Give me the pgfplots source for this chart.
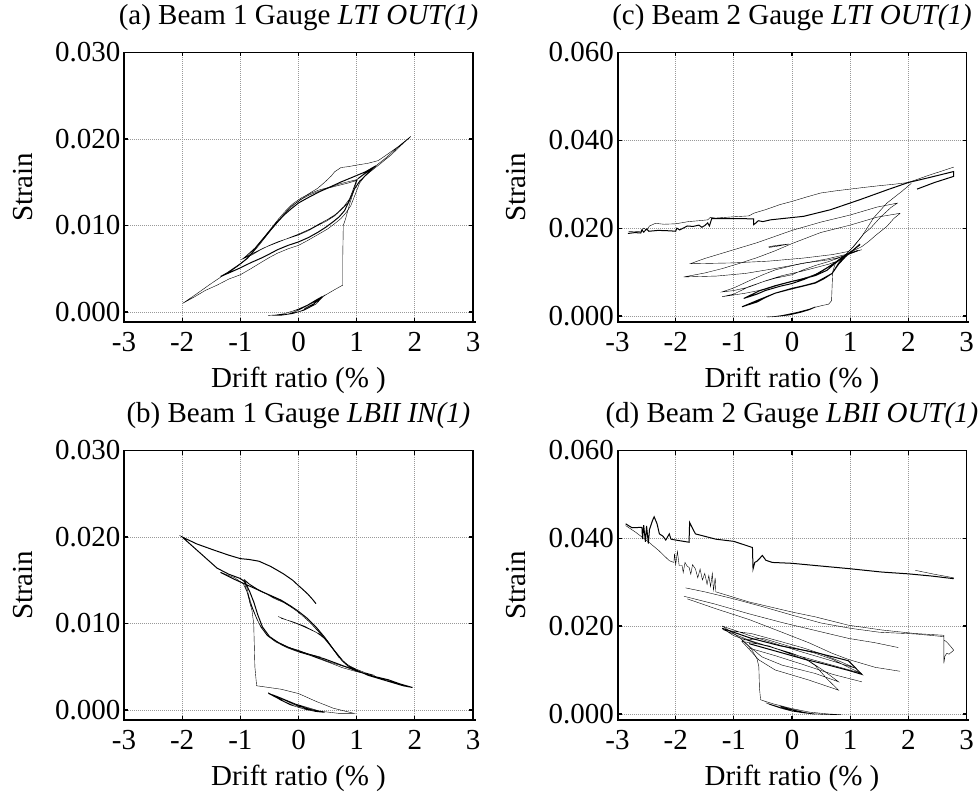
\documentclass[border=0pt]{standalone}
\usepackage{fontspec}
\setmainfont{Liberation Serif}
\usepackage{pgfplots}
\pgfplotsset{compat=1.18}

\pgfplotsset{
  panel/.style={
    scale only axis, width=349pt, height=269.5pt,
    xmin=-3, xmax=3, xtick={-3,-2,-1,0,1,2,3},
    clip=false,
    grid=major,
    grid style={gray!80, line width=0.7pt, dash pattern=on 1pt off 1pt},
    tick align=inside, major tick length=4pt,
    tick style={black, line width=1.3pt},
    axis line style={black, line width=1.1pt},
    font=\fontsize{29}{34}\selectfont,
    /pgf/number format/assume math mode=true,
    scaled y ticks=false,
    yticklabel={\pgfmathprintnumber[fixed,fixed zerofill,precision=3,assume math mode=true]{\tick}},
    xticklabel style={yshift=-7pt},
    xlabel={Drift ratio (\% )},
    ylabel={Strain},
    xlabel style={at={(axis description cs:0.5,0)}, anchor=base, yshift=-65pt, inner sep=0pt},
    title style={at={(axis description cs:0.5,1)}, anchor=base, yshift=22pt, inner sep=0pt},
    cycle list={{black, solid, line width=1pt, line join=round, mark=none}},
  },
}

\begin{document}
\begin{tikzpicture}
\useasboundingbox (0,0) rectangle (979pt,-794pt);

% ---------------- (a) ----------------
\begin{axis}[panel, at={(124pt,-322pt)}, anchor=south west,
  ymin=-0.00116, ymax=0.030, ytick={0,0.01,0.02,0.03},
  ylabel style={at={(axis description cs:-0.261,0.5)}, anchor=base, inner sep=0pt},
  title={(a) Beam 1 Gauge \textit{LTI OUT(1)}}]
\addplot coordinates {(-0.52,-0.0004) (-0.3,-0.0003) (-0.1,0.0001) (0.1,0.0006) (0.3,0.0013) (0.44,0.0019) (0.3,0.0009) (0.1,0.0002) (-0.1,-0.0002) (-0.3,-0.0004) (-0.45,-0.0004) (-0.25,-0.0002) (-0.05,0.0002) (0.15,0.0008) (0.35,0.0016) (0.42,0.0018) (0.25,0.0008) (0.05,0.0001) (-0.15,-0.0002) (-0.35,-0.0004) (-0.15,0.0000) (0.05,0.0004) (0.25,0.0011) (0.40,0.0018) (0.2,0.0006) (0.0,0.0000) (-0.2,-0.0003) (0.0,0.0002) (0.2,0.0009) (0.38,0.0015) (0.3,0.0011) (0.1,0.0004) (0.25,0.0009) (0.45,0.0019) (0.6,0.0025) (0.76,0.0031) (0.76,0.0060) (0.77,0.0100) (0.81,0.0108) (0.88,0.0125) (0.95,0.0140) (1.0,0.0152)};
\addplot coordinates {(1.0,0.0152) (0.85,0.0149) (0.67,0.0146) (0.50,0.0143) (0.33,0.0139) (0.18,0.0135) (0.04,0.0130) (-0.08,0.0124) (-0.19,0.0117) (-0.30,0.0109) (-0.42,0.0100) (-0.55,0.0089) (-0.65,0.0081) (-0.80,0.0070) (-0.97,0.0061) (-0.80,0.0066) (-0.65,0.0072) (-0.50,0.0077) (-0.36,0.0081) (-0.18,0.0085) (0,0.0089) (0.17,0.0094) (0.33,0.0100) (0.48,0.0105) (0.62,0.0111) (0.75,0.0119) (0.85,0.0126) (0.93,0.0140) (1.0,0.0153) (0.88,0.0151) (0.70,0.0148) (0.52,0.0144) (0.35,0.0141) (0.20,0.0137) (0.05,0.0132) (-0.10,0.0125) (-0.22,0.0117) (-0.35,0.0107) (-0.48,0.0096) (-0.60,0.0086) (-0.75,0.0074) (-0.93,0.0063) (-0.78,0.0068) (-0.60,0.0074) (-0.45,0.0078) (-0.30,0.0082) (-0.15,0.0086) (0.0,0.0090) (0.20,0.0096) (0.36,0.0102) (0.50,0.0107) (0.64,0.0113) (0.78,0.0122) (0.88,0.0131) (0.95,0.0143) (1.02,0.0154)};
\addplot coordinates {(1.02,0.0154) (1.14,0.0160) (1.33,0.0169) (1.15,0.0162) (0.90,0.0155) (0.72,0.0150) (0.56,0.0145) (0.36,0.0139) (0.16,0.0132) (0.0,0.0126) (-0.13,0.0119) (-0.25,0.0112) (-0.36,0.0104) (-0.50,0.0093) (-0.65,0.0081) (-0.78,0.0070) (-0.88,0.0062) (-1.05,0.0053) (-1.2,0.0046) (-1.34,0.0041) (-1.2,0.0045) (-1.0,0.0051) (-0.82,0.0057) (-0.65,0.0062) (-0.50,0.0067) (-0.36,0.0072) (-0.18,0.0077) (0,0.0081) (0.17,0.0086) (0.33,0.0092) (0.47,0.0098) (0.59,0.0104) (0.70,0.0110) (0.79,0.0117) (0.87,0.0128) (0.96,0.0142) (1.05,0.0151) (1.14,0.0157) (1.25,0.0164) (1.33,0.0169)};
\addplot coordinates {(1.33,0.0169) (1.5,0.0178) (1.7,0.0190) (1.93,0.0203) (1.71,0.0191) (1.50,0.0181) (1.37,0.0175) (1.20,0.0172) (1.02,0.0170) (0.85,0.0168) (0.73,0.0167) (0.62,0.0162) (0.56,0.0157) (0.45,0.0150) (0.33,0.0143) (0.16,0.0136) (0.0,0.0128) (-0.13,0.0122) (-0.31,0.0108) (-0.45,0.0097) (-0.54,0.0089) (-0.68,0.0077) (-0.82,0.0066) (-0.95,0.0058) (-1.11,0.0051) (-1.30,0.0042) (-1.52,0.0032) (-1.75,0.0021) (-1.99,0.0010) (-1.80,0.0017) (-1.60,0.0025) (-1.40,0.0031) (-1.20,0.0038) (-1.0,0.0043) (-0.82,0.0050) (-0.65,0.0057) (-0.50,0.0063) (-0.36,0.0068) (-0.18,0.0073) (0,0.0077) (0.14,0.0082) (0.27,0.0087) (0.40,0.0092) (0.50,0.0096) (0.62,0.0102) (0.73,0.0108) (0.82,0.0115) (0.90,0.0123) (0.97,0.0135) (1.05,0.0149) (1.15,0.0158) (1.25,0.0163) (1.40,0.0171) (1.60,0.0182) (1.80,0.0195) (1.92,0.0202)};
\draw[line width=2pt] (rel axis cs:0,1) -- (rel axis cs:0,0) -- (rel axis cs:1.008,0);
\end{axis}

% ---------------- (c) ----------------
\begin{axis}[panel, at={(617.5pt,-322pt)}, anchor=south west,
  ymin=-0.00136, ymax=0.060, ytick={0,0.02,0.04,0.06},
  ylabel style={at={(axis description cs:-0.265,0.5)}, anchor=base, inner sep=0pt},
  title={(c) Beam 2 Gauge \textit{LTI OUT(1)}}]
\addplot coordinates {(-0.43,-0.0002) (-0.25,-0.0001) (-0.05,0.0002) (0.15,0.0008) (0.30,0.0014) (0.40,0.0020) (0.25,0.0013) (0.05,0.0006) (-0.15,0.0001) (-0.35,-0.0002) (-0.15,0.0002) (0.10,0.0009) (0.30,0.0016) (0.40,0.0021) (0.2,0.0010) (0.0,0.0004) (-0.2,0.0000) (0.0,0.0005) (0.2,0.0012) (0.40,0.0020) (0.52,0.0024) (0.63,0.0027) (0.68,0.0035) (0.69,0.0070) (0.70,0.0101) (0.74,0.0118) (0.80,0.0127) (0.86,0.0134) (0.92,0.0139) (1.00,0.0146) (1.08,0.0153) (1.17,0.0162)};
\addplot coordinates {(1.17,0.0162) (1.05,0.0150) (0.92,0.0138) (0.80,0.0126) (0.63,0.0118) (0.40,0.0110) (0.17,0.0102) (0.0,0.0097) (-0.17,0.0092) (-0.46,0.0080) (-0.74,0.0066) (-1.0,0.0058) (-1.2,0.0055) (-1.0,0.0064) (-0.74,0.0080) (-0.50,0.0094) (-0.29,0.0105) (-0.05,0.0113) (0.17,0.0120) (0.40,0.0124) (0.63,0.0128) (0.80,0.0133) (0.92,0.0139) (1.05,0.0145) (1.20,0.0151) (1.05,0.0146) (0.92,0.0139) (0.80,0.0128) (0.66,0.0115) (0.50,0.0100) (0.30,0.0090) (0.10,0.0082) (-0.17,0.0073) (-0.46,0.0061) (-0.80,0.0052) (-1.0,0.0048) (-1.2,0.0044) (-1.0,0.0050) (-0.74,0.0067) (-0.50,0.0078) (-0.29,0.0086) (0.0,0.0094) (0.17,0.0104) (0.40,0.0115) (0.63,0.0124) (0.80,0.0132) (0.92,0.0139) (1.13,0.0149)};
\addplot coordinates {(1.13,0.0149) (0.92,0.0138) (0.74,0.0120) (0.60,0.0104) (0.40,0.0092) (0.17,0.0084) (0.0,0.0079) (-0.29,0.0069) (-0.55,0.0058) (-0.83,0.0040) (-0.60,0.0050) (-0.46,0.0058) (-0.20,0.0068) (0.0,0.0074) (0.20,0.0083) (0.40,0.0094) (0.58,0.0108) (0.74,0.0121) (0.92,0.0139) (0.80,0.0120) (0.69,0.0097) (0.50,0.0083) (0.40,0.0076) (0.20,0.0069) (0.0,0.0063) (-0.29,0.0052) (-0.57,0.0037) (-0.86,0.0021) (-0.60,0.0032) (-0.46,0.0042) (-0.29,0.0052) (0.0,0.0062) (0.25,0.0070) (0.40,0.0075) (0.55,0.0085) (0.69,0.0097) (0.80,0.0118) (0.92,0.0135) (1.0,0.0144) (1.17,0.0164)};
\addplot coordinates {(0.92,0.0140) (0.6,0.0130) (0.2,0.0120) (-0.3,0.0108) (-0.8,0.0097) (-1.3,0.0091) (-1.86,0.0089) (-1.5,0.0098) (-1.2,0.0108) (-0.9,0.0120) (-0.6,0.0133) (-0.3,0.0148) (0,0.0165) (0.49,0.0190) (1.0,0.0207) (1.46,0.0225) (1.86,0.0234) (1.75,0.0222) (1.63,0.0204) (1.45,0.0185) (1.32,0.0170) (1.2,0.0158) (1.09,0.0151) (0.92,0.0139)};
\addplot coordinates {(0.97,0.0147) (0.7,0.0140) (0.2,0.0132) (-0.4,0.0125) (-1.0,0.0121) (-1.75,0.0119) (-1.5,0.0131) (-1.2,0.0143) (-0.9,0.0155) (-0.6,0.0167) (-0.3,0.0181) (0,0.0195) (0.5,0.0214) (1.0,0.0230) (1.46,0.0248) (1.81,0.0257) (1.7,0.0247) (1.52,0.0225) (1.35,0.0200) (1.23,0.0187) (1.06,0.0158) (0.97,0.0147)};
\addplot coordinates {(-0.40,0.0158) (-0.25,0.0161) (-0.05,0.0164) (-0.25,0.0159) (-0.40,0.0156)};
\addplot coordinates {(-2.81,0.0192) (-2.6,0.0193) (-2.55,0.0200) (-2.5,0.0196) (-2.45,0.0205) (-2.35,0.0211) (-2.2,0.0209) (-2.0,0.0210) (-1.78,0.0215) (-1.6,0.0217) (-1.45,0.0219) (-1.40,0.0225) (-1.32,0.0223) (-1.0,0.0226) (-0.74,0.0228) (-0.66,0.0234) (-0.46,0.0242) (-0.2,0.0254) (0,0.0261) (0.25,0.0271) (0.49,0.0280) (0.75,0.0285) (1.0,0.0289) (1.25,0.0293) (1.52,0.0297) (1.75,0.0300) (2.0,0.0304) (2.32,0.0319) (2.55,0.0329) (2.78,0.0339)};
\addplot coordinates {(-2.82,0.0188) (-2.7,0.0190) (-2.6,0.0189) (-2.58,0.0196) (-2.55,0.0191) (-2.5,0.0198) (-2.46,0.0193) (-2.3,0.0195) (-2.1,0.0194) (-2.0,0.0193) (-1.98,0.0200) (-1.93,0.0196) (-1.8,0.0205) (-1.7,0.0204) (-1.6,0.0207) (-1.55,0.0202) (-1.5,0.0206) (-1.45,0.0212) (-1.42,0.0205) (-1.38,0.0222) (-1.2,0.0222) (-0.9,0.0222) (-0.66,0.0221) (-0.66,0.0208) (-0.62,0.0212) (-0.58,0.0217) (-0.5,0.0215) (-0.37,0.0219) (0.2,0.0227) (0.66,0.0242) (1.17,0.0265) (1.63,0.0287) (2.0,0.0304) (2.32,0.0314) (2.78,0.0329) (2.78,0.0318) (2.45,0.0304) (2.15,0.0289)};
\addplot coordinates {(2.05,0.0302) (1.89,0.0284) (1.63,0.0257) (1.40,0.0223) (1.2,0.0181) (1.0,0.0150) (0.92,0.0140)};
\draw[line width=2pt] (rel axis cs:0,1) -- (rel axis cs:0,0) -- (rel axis cs:1.008,0);
\end{axis}

% ---------------- (b) ----------------
\begin{axis}[panel, at={(124pt,-720pt)}, anchor=south west,
  ymin=-0.00116, ymax=0.030, ytick={0,0.01,0.02,0.03},
  ylabel style={at={(axis description cs:-0.261,0.5)}, anchor=base, inner sep=0pt},
  title={(b) Beam 1 Gauge \textit{LBII IN(1)}}]
\addplot coordinates {(-0.52,0.0019) (-0.35,0.0013) (-0.15,0.0006) (0.05,0.0002) (0.25,-0.0001) (0.45,-0.0003) (0.25,0.0000) (0.0,0.0004) (-0.2,0.0010) (-0.4,0.0016) (-0.52,0.0020) (-0.3,0.0011) (-0.1,0.0005) (0.1,0.0001) (0.3,-0.0002) (0.45,-0.0003) (0.2,0.0002) (-0.05,0.0007) (-0.3,0.0014) (-0.45,0.0018) (-0.25,0.0010) (-0.05,0.0004) (0.15,-0.0000) (0.35,-0.0002) (0.1,0.0003) (-0.1,0.0008) (-0.3,0.0014) (-0.1,0.0007) (0.15,0.0001) (0.45,-0.0002) (0.7,-0.0004) (0.96,-0.0004) (0.6,0.0002) (0.3,0.0010) (0.0,0.0019) (-0.3,0.0024) (-0.72,0.0028) (-0.75,0.0050) (-0.77,0.0100) (-0.80,0.0115) (-0.84,0.0125) (-0.88,0.0140) (-0.93,0.0151)};
\addplot coordinates {(-0.93,0.0151) (-0.85,0.0146) (-0.71,0.0140) (-0.55,0.0134) (-0.42,0.0129) (-0.25,0.0124) (-0.13,0.0119) (0.0,0.0113) (0.10,0.0107) (0.22,0.0100) (0.33,0.0092) (0.45,0.0083) (0.56,0.0074) (0.68,0.0064) (0.79,0.0055) (0.90,0.0050) (1.0,0.0047) (0.85,0.0049) (0.70,0.0052) (0.56,0.0055) (0.40,0.0059) (0.27,0.0062) (0.12,0.0065) (0.0,0.0068) (-0.15,0.0072) (-0.31,0.0077) (-0.45,0.0082) (-0.54,0.0087) (-0.63,0.0095) (-0.71,0.0104) (-0.78,0.0115) (-0.83,0.0123) (-0.88,0.0135) (-0.91,0.0143) (-0.94,0.0150) (-0.80,0.0143) (-0.65,0.0137) (-0.45,0.0131) (-0.25,0.0125) (-0.10,0.0118) (0.05,0.0110) (0.20,0.0101) (0.35,0.0090) (0.50,0.0078) (0.62,0.0068) (0.75,0.0058) (0.85,0.0052) (1.0,0.0047) (1.15,0.0043) (1.31,0.0040) (1.15,0.0042) (0.96,0.0045) (0.75,0.0049) (0.56,0.0054) (0.40,0.0058) (0.20,0.0063) (0.0,0.0067) (-0.2,0.0072) (-0.4,0.0079) (-0.54,0.0086) (-0.65,0.0096) (-0.73,0.0108) (-0.80,0.0120) (-0.86,0.0133) (-0.95,0.0146) (-1.10,0.0153) (-1.34,0.0159)};
\addplot coordinates {(-1.34,0.0159) (-1.1,0.0151) (-0.9,0.0145) (-0.7,0.0139) (-0.5,0.0133) (-0.3,0.0127) (-0.13,0.0120) (0.0,0.0114) (0.15,0.0106) (0.30,0.0096) (0.45,0.0084) (0.60,0.0070) (0.75,0.0057) (0.85,0.0051) (1.0,0.0046) (1.2,0.0040) (1.4,0.0036) (1.6,0.0032) (1.8,0.0028) (1.96,0.0026) (1.75,0.0030) (1.54,0.0035) (1.35,0.0038) (1.19,0.0041) (1.0,0.0045) (0.85,0.0049) (0.65,0.0054) (0.45,0.0059) (0.25,0.0063) (0.0,0.0068) (-0.2,0.0073) (-0.35,0.0078) (-0.50,0.0085) (-0.62,0.0096) (-0.70,0.0110) (-0.77,0.0125) (-0.84,0.0137) (-0.92,0.0148) (-1.0,0.0152) (-1.2,0.0157) (-1.4,0.0164) (-1.6,0.0176) (-1.8,0.0188) (-2.0,0.0200) (-1.75,0.0192) (-1.46,0.0185) (-1.2,0.0179) (-1.0,0.0175) (-0.85,0.0174) (-0.68,0.0172) (-0.48,0.0166) (-0.35,0.0161) (-0.25,0.0157) (-0.10,0.0150) (-0.02,0.0145) (0.08,0.0139) (0.16,0.0134) (0.24,0.0128) (0.30,0.0123)};
\addplot coordinates {(-0.35,0.0108) (-0.2,0.0104) (0.0,0.0099) (0.2,0.0093) (0.39,0.0087) (0.55,0.0075) (0.7,0.0060) (0.5,0.0080) (0.3,0.0090) (0.1,0.0097) (-0.1,0.0102) (-0.3,0.0106)};
\addplot coordinates {(-0.31,0.0076) (-0.1,0.0070) (0.1,0.0066) (0.39,0.0061) (0.2,0.0064) (0.0,0.0069) (-0.2,0.0073)};
\draw[line width=2pt] (rel axis cs:0,1) -- (rel axis cs:0,0) -- (rel axis cs:1.008,0);
\end{axis}

% ---------------- (d) ----------------
\begin{axis}[panel, at={(617.5pt,-720pt)}, anchor=south west,
  ymin=-0.0014, ymax=0.060, ytick={0,0.02,0.04,0.06},
  ylabel style={at={(axis description cs:-0.265,0.5)}, anchor=base, inner sep=0pt},
  title={(d) Beam 2 Gauge \textit{LBII OUT(1)}}]
\addplot coordinates {(-0.45,0.0025) (-0.3,0.0019) (-0.1,0.0011) (0.1,0.0005) (0.3,0.0001) (0.4,0.0000) (0.2,0.0003) (0.0,0.0008) (-0.2,0.0015) (-0.4,0.0022) (-0.2,0.0013) (0.0,0.0006) (0.2,0.0002) (0.4,-0.0001) (0.2,0.0004) (0.0,0.0010) (-0.2,0.0017) (0.0,0.0009) (0.2,0.0003) (0.4,0.0000) (0.6,-0.0002) (0.85,-0.0002) (0.6,0.0000) (0.3,0.0004) (0.0,0.0012) (-0.3,0.0022) (-0.45,0.0028) (-0.54,0.0032) (-0.56,0.0060) (-0.57,0.0107) (-0.60,0.0125) (-0.70,0.0148) (-0.85,0.0168) (-1.0,0.0183) (-1.2,0.0200)};
\addplot coordinates {(-1.2,0.0200) (-0.74,0.0179) (-0.29,0.0160) (0.17,0.0141) (0.63,0.0123) (1.09,0.0104) (0.8,0.0121) (0.5,0.0137) (0.2,0.0150) (-0.2,0.0165) (-0.7,0.0183) (-1.17,0.0191) (-0.74,0.0168) (-0.29,0.0149) (0.17,0.0130) (0.69,0.0111) (1.2,0.0092) (1.0,0.0104) (0.7,0.0124) (0.4,0.0138) (0.0,0.0152) (-0.5,0.0172) (-0.86,0.0168) (-0.52,0.0130) (-0.17,0.0111) (0.40,0.0092) (0.8,0.0073) (0.55,0.0098) (0.3,0.0120) (0.0,0.0135) (-0.4,0.0155) (-0.86,0.0165) (-0.57,0.0123) (-0.29,0.0100) (0.29,0.0077) (0.8,0.0054) (0.6,0.0080) (0.4,0.0110) (0.2,0.0128) (0.0,0.0138) (-0.3,0.0150) (-0.6,0.0160) (-1.0,0.0178) (-1.2,0.0195)};
\addplot coordinates {(-1.2,0.0195) (-0.7,0.0172) (-0.2,0.0155) (0.40,0.0140) (0.97,0.0121) (1.2,0.0090) (1.0,0.0098) (0.6,0.0112) (0.2,0.0125) (-0.2,0.0140) (-0.74,0.0160)};
\addplot coordinates {(-0.74,0.0150) (-0.3,0.0133) (0.2,0.0112) (0.7,0.0090) (1.2,0.0073)};
\addplot coordinates {(-1.83,0.0287) (-1.5,0.0278) (-1.0,0.0262) (-0.5,0.0244) (0,0.0225) (0.5,0.0207) (1.0,0.0195) (1.5,0.0186) (2.12,0.0182) (2.61,0.0176)};
\addplot coordinates {(-1.86,0.0268) (-1.32,0.0250) (-0.74,0.0228) (-0.17,0.0208) (0.40,0.0190) (0.97,0.0172) (1.43,0.0162) (1.83,0.0151)};
\addplot coordinates {(-1.80,0.0262) (-1.32,0.0240) (-0.74,0.0215) (-0.29,0.0192) (0.29,0.0162) (0.69,0.0138) (0.97,0.0124) (1.43,0.0106) (1.86,0.0097)};
\addplot coordinates {(-2.86,0.0433) (-2.75,0.0424) (-2.58,0.0425) (-2.57,0.0398) (-2.55,0.0430) (-2.52,0.0392) (-2.50,0.0428) (-2.47,0.0388) (-2.45,0.0420) (-2.40,0.0440) (-2.37,0.0449) (-2.32,0.0433) (-2.28,0.0410) (-2.22,0.0405) (-2.17,0.0396) (-2.11,0.0410) (-2.08,0.0398) (-2.0,0.0396) (-1.77,0.0391) (-1.76,0.0436) (-1.70,0.0420) (-1.66,0.0410) (-1.31,0.0398) (-1.0,0.0393) (-0.68,0.0379) (-0.67,0.0330) (-0.64,0.0345) (-0.60,0.0348) (-0.55,0.0355) (-0.51,0.0361) (-0.45,0.0350) (-0.34,0.0345) (0,0.0343) (0.4,0.0338) (0.97,0.0331) (1.55,0.0323) (2.0,0.0319) (2.4,0.0314) (2.78,0.0308)};
\addplot coordinates {(2.12,0.0327) (2.45,0.0318) (2.78,0.0310)};
\addplot coordinates {(-2.86,0.0429) (-2.69,0.0414) (-2.57,0.0402) (-2.46,0.0391) (-2.29,0.0372) (-2.11,0.0349) (-2.03,0.0345) (-2.02,0.0365) (-2.0,0.0340) (-1.97,0.0370) (-1.94,0.0338) (-1.89,0.0338) (-1.87,0.0322) (-1.84,0.0345) (-1.80,0.0336) (-1.77,0.0334) (-1.74,0.0318) (-1.71,0.0340) (-1.66,0.0330) (-1.62,0.0310) (-1.58,0.0330) (-1.54,0.0305) (-1.50,0.0320) (-1.46,0.0295) (-1.43,0.0315) (-1.40,0.0290) (-1.37,0.0320) (-1.35,0.0282) (-1.32,0.0310) (-1.31,0.0278) (-0.74,0.0255) (0,0.0232) (0.40,0.0221) (0.97,0.0202) (1.55,0.0191) (2.12,0.0183) (2.61,0.0179) (2.61,0.0115) (2.63,0.0132) (2.66,0.0138) (2.70,0.0136) (2.78,0.0145) (2.72,0.0155) (2.65,0.0165) (2.61,0.0168)};
\draw[line width=2pt] (rel axis cs:0,1) -- (rel axis cs:0,0) -- (rel axis cs:1.008,0);
\end{axis}
\end{tikzpicture}
\end{document}
